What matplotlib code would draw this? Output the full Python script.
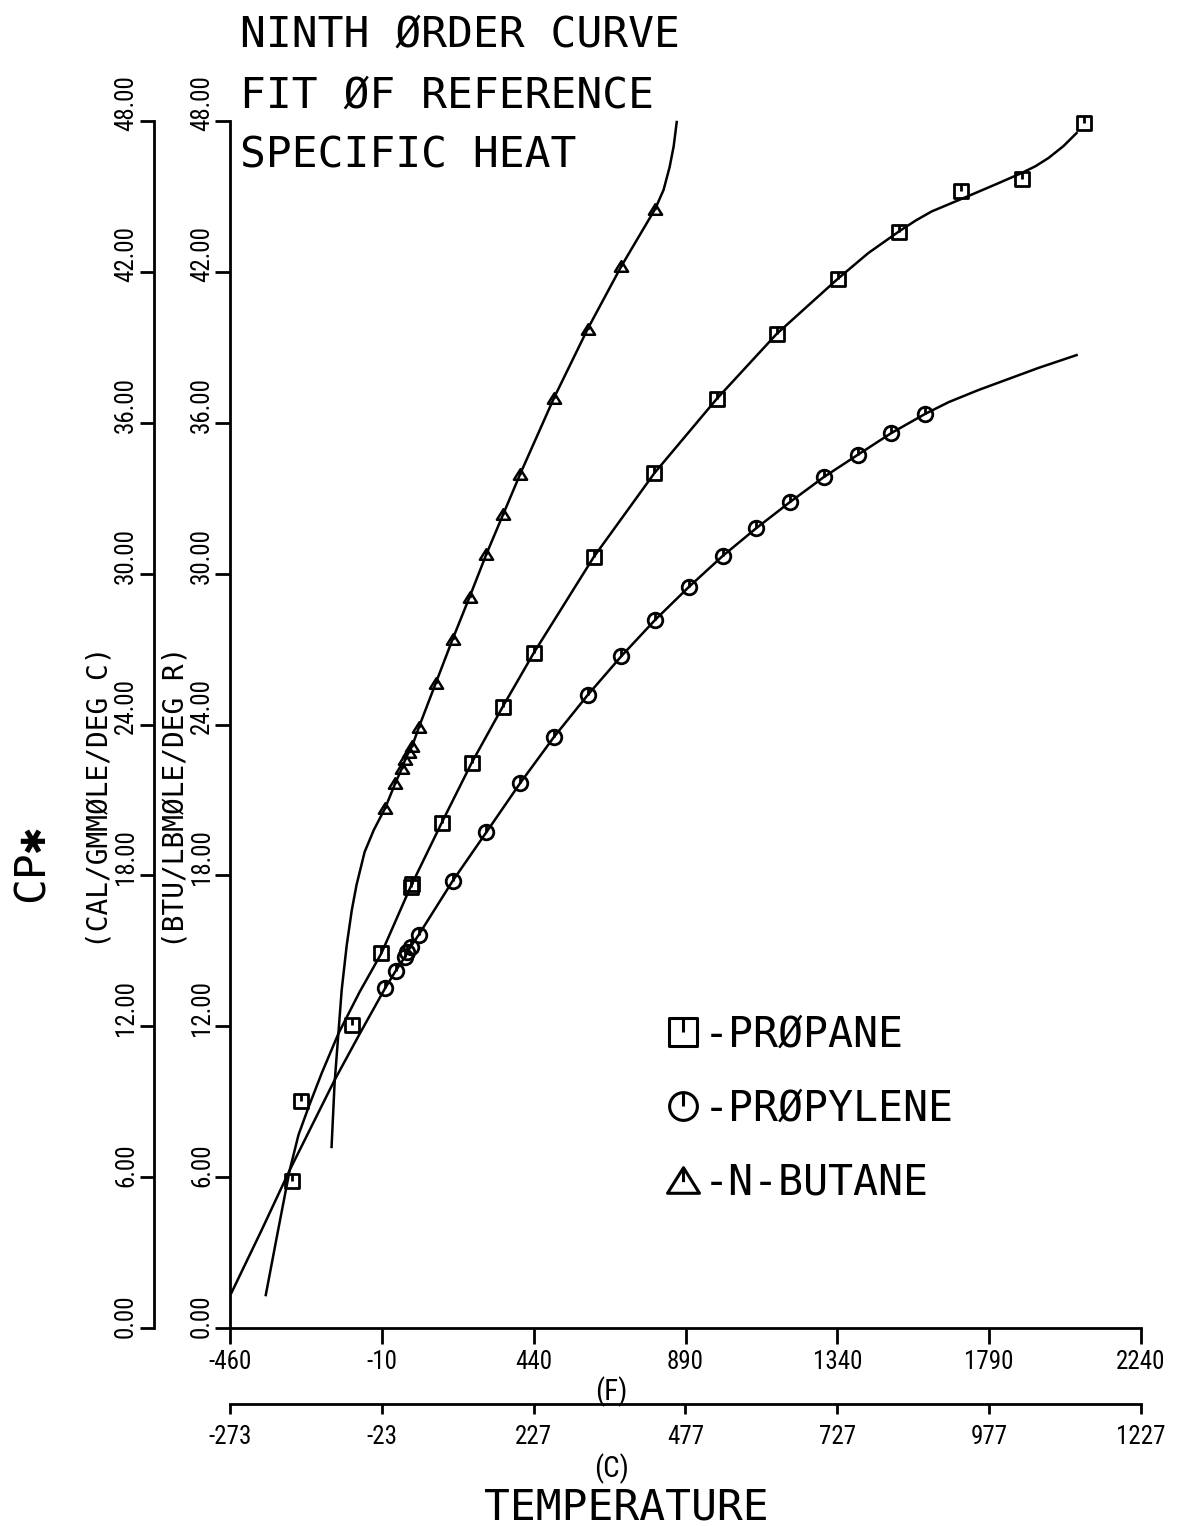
import matplotlib
matplotlib.use("Agg")
import matplotlib.pyplot as plt
from matplotlib.path import Path
from matplotlib.lines import Line2D
from matplotlib.transforms import ScaledTranslation
from matplotlib.font_manager import FontProperties

# ---------------- data ----------------
# temperature in deg F, CP* in BTU/LBMOLE/DEG R
propane_F = [-277, -251, -99, -11, 75, 78, 167, 256, 348, 440, 618, 798, 982,
             1160, 1341, 1524, 1708, 1886, 2072]
propane_cp = [5.85, 9.03, 12.05, 14.91, 17.54, 17.66, 20.08, 22.47, 24.70, 26.84,
              30.66, 34.00, 36.94, 39.53, 41.72, 43.59, 45.22, 45.69, 47.92]

propylene_F = [0, 31, 58, 66, 75, 99, 200, 300, 400, 500, 600, 700, 800, 900,
               1000, 1100, 1200, 1300, 1400, 1500, 1600]
propylene_cp = [13.52, 14.20, 14.75, 14.95, 15.15, 15.63, 17.78, 19.72, 21.67,
                23.50, 25.17, 26.72, 28.16, 29.47, 30.70, 31.81, 32.85, 33.84,
                34.72, 35.59, 36.35]

butane_F = [0, 30, 50, 60, 70, 80, 100, 150, 200, 250, 300, 350, 400, 500,
            600, 700, 800]
butane_cp = [20.68, 21.67, 22.27, 22.63, 22.91, 23.14, 23.90, 25.65, 27.40,
             29.07, 30.78, 32.37, 33.96, 36.98, 39.73, 42.23, 44.50]

# fitted curves (ninth-order fit lines)
propane_fit_F = [-354, -319, -283, -257, -227, -188, -138, -76, -11, 75, 167,
                 256, 348, 440, 618, 798, 982, 1160, 1341, 1432, 1524, 1572,
                 1619, 1729, 1818, 1886, 1927, 1966, 2010, 2049]
propane_fit_cp = [1.31, 3.78, 6.28, 7.68, 8.79, 10.14, 11.73, 13.36, 14.91,
                  17.54, 20.08, 22.47, 24.70, 26.84, 30.66, 34.00, 36.94, 39.53,
                  41.72, 42.75, 43.62, 44.04, 44.40, 45.02, 45.53, 45.93, 46.20,
                  46.53, 47.00, 47.52]

propylene_fit_F = [-456, -366, -283, -218, -150, -76, 0, 31, 58, 66, 75, 99,
                   200, 300, 400, 500, 600, 700, 800, 900, 1000, 1100, 1200,
                   1300, 1400, 1500, 1600, 1670, 1758, 1847, 1936, 2049]
propylene_fit_cp = [1.39, 3.90, 6.28, 8.03, 9.86, 11.69, 13.52, 14.20, 14.75,
                    14.95, 15.15, 15.63, 17.78, 19.72, 21.67, 23.50, 25.17,
                    26.72, 28.16, 29.47, 30.70, 31.81, 32.85, 33.84, 34.72,
                    35.59, 36.35, 36.82, 37.30, 37.74, 38.18, 38.69]

butane_fit_F = [-159, -150, -138, -129, -114, -99, -85, -61, -34, 0, 30, 50,
                60, 70, 80, 100, 150, 200, 250, 300, 350, 400, 500, 600, 700,
                800, 825, 843, 855, 864]
butane_fit_cp = [7.20, 9.74, 11.85, 13.44, 15.23, 16.62, 17.62, 18.93, 19.80,
                 20.68, 21.67, 22.27, 22.63, 22.91, 23.14, 23.90, 25.65, 27.40,
                 29.07, 30.78, 32.37, 33.96, 36.98, 39.73, 42.23, 44.50, 45.26,
                 46.17, 47.00, 47.96]

F_ticks = [-460, -10, 440, 890, 1340, 1790, 2240]
F_tick_labels = ["-460", "-10", "440", "890", "1340", "1790", "2240"]
C_tick_labels = ["-273", "-23", "227", "477", "727", "977", "1227"]
cp_ticks = [0, 6, 12, 18, 24, 30, 36, 42, 48]
cp_tick_labels = ["0.00", "6.00", "12.00", "18.00", "24.00", "30.00",
                  "36.00", "42.00", "48.00"]

series_labels = ["-PR\u00d8PANE", "-PR\u00d8PYLENE", "-N-BUTANE"]

# ---------------- styling ----------------
MONO = ["DejaVu Sans Mono", "DejaVu Sans"]
NARROW = ["Roboto Condensed", "Liberation Sans Narrow", "DejaVu Sans Condensed",
          "Roboto", "DejaVu Sans"]
W, H = 1188, 1526
X0, X1 = 230, 1141     # pixel extent of the F axis
Y0, Y1 = 1328, 121     # pixel extent of the CP axis
TICKFS = 18

# plotter-style markers with the little pen mark inside
sq_marker = Path([(-1, -1), (1, -1), (1, 1), (-1, 1), (-1, -1), (0, 1), (0, 0)],
                 [Path.MOVETO, Path.LINETO, Path.LINETO, Path.LINETO,
                  Path.CLOSEPOLY, Path.MOVETO, Path.LINETO])
circ_marker = Path.make_compound_path(Path.unit_circle(),
                                      Path([(0, 1), (0, 0)]))
tri_marker = Path([(0, 0.8), (-1, -0.8), (1, -0.8), (0, 0.8), (0, 0.8), (0, -0.1)],
                  [Path.MOVETO, Path.LINETO, Path.LINETO, Path.CLOSEPOLY,
                   Path.MOVETO, Path.LINETO])

fig = plt.figure(figsize=(W / 100, H / 100), dpi=100)
fig.patch.set_facecolor("white")
ax = fig.add_axes([X0 / W, (H - Y0) / H, (X1 - X0) / W, (Y0 - Y1) / H])
ax.set_xlim(-460, 2240)
ax.set_ylim(0, 48)
ax.patch.set_alpha(0)

lw = 1.8
ax.plot(propane_fit_F, propane_fit_cp, color="k", lw=lw, clip_on=False,
        solid_joinstyle="round")
ax.plot(propylene_fit_F, propylene_fit_cp, color="k", lw=lw, clip_on=False,
        solid_joinstyle="round")
ax.plot(butane_fit_F, butane_fit_cp, color="k", lw=lw, clip_on=False,
        solid_joinstyle="round")

mk = dict(ls="none", mfc="none", mec="k", clip_on=False)
ax.plot(propane_F, propane_cp, marker=sq_marker, ms=10, mew=2.0, **mk)
ax.plot(propylene_F, propylene_cp, marker=circ_marker, ms=10.5, mew=2.0, **mk)
ax.plot(butane_F, butane_cp, marker=tri_marker, ms=9.5, mew=1.8, **mk)

for s in ["top", "right"]:
    ax.spines[s].set_visible(False)
for s in ["left", "bottom"]:
    ax.spines[s].set_linewidth(2.0)

# F axis
ax.set_xticks(F_ticks)
ax.set_xticklabels(F_tick_labels, family=NARROW, fontsize=TICKFS)
ax.tick_params(axis="x", direction="out", length=11.5, width=2.0, pad=4)
ax.set_xlabel("(F)", x=0.419, labelpad=2, family=NARROW, fontsize=21)

# inner CP axis (BTU/LBMOLE/DEG R)
ax.set_yticks(cp_ticks)
ax.set_yticklabels(cp_tick_labels, family=NARROW, fontsize=TICKFS)
ax.tick_params(axis="y", direction="out", length=11, width=2.0, pad=0.5)
ax.set_ylabel("(BTU/LBM\u00d8LE/DEG R)", y=0.44, labelpad=0.5, family=MONO,
              fontsize=20)

# outer CP axis (CAL/GMMOLE/DEG C)
sec_y = ax.secondary_yaxis((154 - X0) / (X1 - X0))
sec_y.set_yticks(cp_ticks)
sec_y.set_yticklabels(cp_tick_labels, family=NARROW, fontsize=TICKFS)
sec_y.tick_params(axis="y", direction="out", length=10, width=2.0, pad=1.5)
sec_y.spines["left"].set_linewidth(2.0)
sec_y.set_ylabel("(CAL/GMM\u00d8LE/DEG C)", y=0.44, labelpad=0.5, family=MONO,
                 fontsize=20)

# C axis
sec_x = ax.secondary_xaxis(-(1404 - Y0) / (Y0 - Y1),
                           functions=(lambda f: (f - 32) / 1.8,
                                      lambda c: c * 1.8 + 32))
sec_x.set_xticks([(f - 32) / 1.8 for f in F_ticks])
sec_x.set_xticklabels(C_tick_labels, family=NARROW, fontsize=TICKFS)
sec_x.tick_params(axis="x", direction="out", length=7, width=2.0, pad=8)
sec_x.spines["bottom"].set_linewidth(2.0)
sec_x.set_xlabel("(C)", x=0.419, labelpad=3, family=NARROW, fontsize=21)

# rotate the CP tick labels like the plotter did
off = ScaledTranslation(0, -0.10, fig.dpi_scale_trans)
for a in (ax, sec_y):
    for lab in a.get_yticklabels():
        lab.set_rotation(90)
        lab.set_ha("right")
        lab.set_va("bottom")
        lab.set_transform(lab.get_transform() + off)

# titles / big labels
for i, line in enumerate(["NINTH \u00d8RDER CURVE", "FIT \u00d8F REFERENCE",
                          "SPECIFIC HEAT"]):
    fig.text(240 / W, (H - (47 + 60.5 * i)) / H, line, family=MONO,
             fontsize=31, ha="left", va="baseline")
fig.text(626 / W, (H - 1520) / H, "TEMPERATURE", family=MONO, fontsize=31,
         ha="center", va="baseline")
fig.text(44 / W, (H - 902) / H, "CP\u2731", family=MONO, fontsize=31,
         rotation=90, rotation_mode="anchor", ha="left", va="baseline")

# legend
handles = [
    Line2D([], [], ls="none", marker=sq_marker, ms=19.5, mfc="none", mec="k", mew=2.2),
    Line2D([], [], ls="none", marker=circ_marker, ms=20, mfc="none", mec="k", mew=2.2),
    Line2D([], [], ls="none", marker=tri_marker, ms=23, mfc="none", mec="k", mew=2.2),
]
ax.legend(handles, series_labels, loc="upper left",
          bbox_to_anchor=(666 / W, (H - 1014) / H), bbox_transform=fig.transFigure,
          frameon=False, prop=FontProperties(family=MONO, size=30),
          handlelength=0.8, handletextpad=0.1, labelspacing=0.76,
          borderpad=0, borderaxespad=0)

fig.savefig("out.png", dpi=100, facecolor="white")
